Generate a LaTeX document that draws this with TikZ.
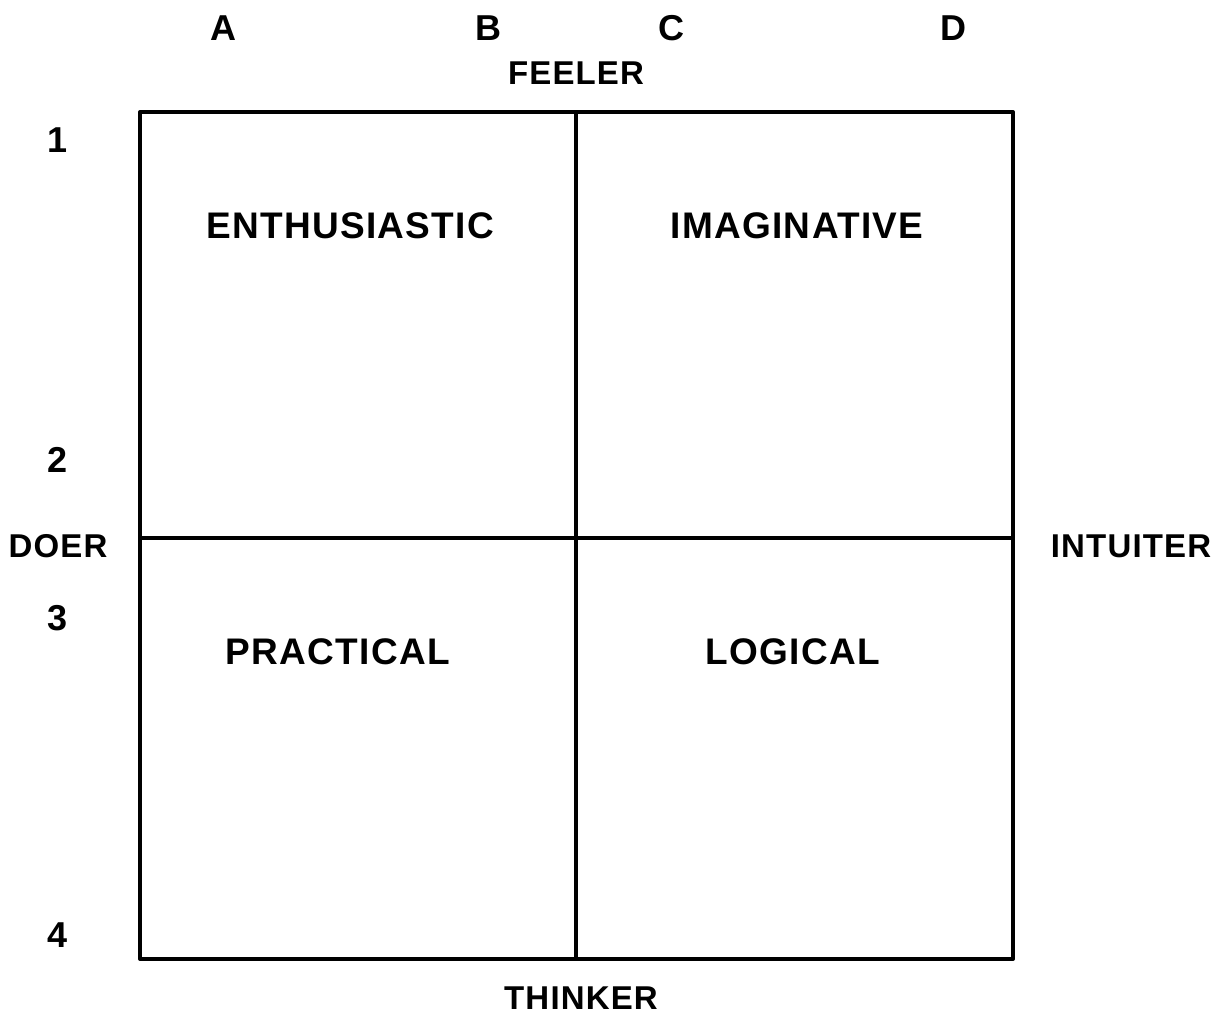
\documentclass[tikz,border=0pt]{standalone}
\usepackage{fontspec}
\setmainfont{Liberation Sans}[LetterSpace=3.5]
\usetikzlibrary{calc,positioning}
\tikzset{quad/.style={font=\bfseries\fontsize{37}{40}\selectfont},
  axis/.style={font=\bfseries\fontsize{33}{36}\selectfont},
  tick/.style={font=\bfseries\fontsize{36}{40}\selectfont}}

\begin{document}
\begin{tikzpicture}[x=1pt,y=-1pt,line cap=round,line join=round]
  \useasboundingbox (0,0) rectangle (1225,1015);
  \coordinate (TL) at (140,112);\coordinate (BR) at (1013,959);
  \coordinate (TM) at (576,112);\coordinate (BM) at (576,959);
  \coordinate (LM) at (140,538);\coordinate (RM) at (1013,538);
  \draw[line width=4pt] (TL) rectangle (BR);
  \draw[line width=3.5pt] (TM)--(BM) (LM)--(RM);
  \node[quad] (enth) at (350,226) {ENTHUSIASTIC};\node[quad] (imag) at (797,226) {IMAGINATIVE};
  \node[quad] (prac) at (338,652) {PRACTICAL};\node[quad] (logi) at (793,652) {LOGICAL};
  \node[axis] (feel) at (576,73) {FEELER};\node[axis] (thin) at (581,998) {THINKER};
  \node[axis] (doer) at (58,546) {DOER};\node[axis] (intu) at (1131,546) {INTUITER};
  \foreach \l/\x in {A/223,B/488,C/671,D/953}{\node[tick] (col\l) at (\x,28) {\l};}
  \foreach \n/\y in {1/140,2/460,3/618,4/935}{\node[tick] (row\n) at (58,\y) {\n};}
\end{tikzpicture}
\end{document}
